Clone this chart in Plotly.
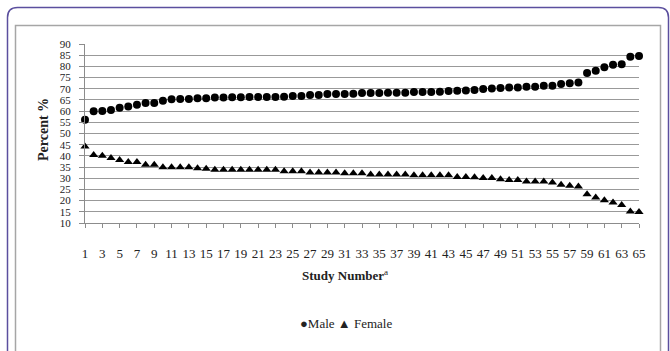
import plotly.graph_objects as go

study_number = list(range(1, 66))

male_pct = [56.1, 59.9, 60.1, 60.5, 61.5, 62.1, 62.8, 63.6, 63.6, 64.6,
            65.3, 65.4, 65.4, 65.8, 65.8, 66.1, 66.1, 66.2, 66.2, 66.3,
            66.3, 66.3, 66.3, 66.4, 66.8, 66.8, 67.2, 67.2, 67.7, 67.7,
            67.7, 67.8, 68.1, 68.1, 68.1, 68.2, 68.2, 68.2, 68.6, 68.6,
            68.6, 68.7, 69.0, 69.1, 69.2, 69.4, 69.9, 70.1, 70.3, 70.6,
            70.6, 70.9, 70.9, 71.3, 71.3, 72.1, 72.5, 72.8, 77.0, 78.1,
            79.6, 80.7, 81.0, 84.3, 84.6]

female_pct = [44.2, 40.4, 40.1, 39.0, 38.2, 37.3, 37.3, 36.0, 36.0, 34.9,
              34.9, 34.9, 34.9, 34.5, 34.2, 33.8, 33.8, 33.8, 33.8, 33.8,
              33.8, 33.8, 33.8, 33.1, 33.1, 33.1, 32.6, 32.6, 32.6, 32.6,
              32.2, 32.2, 32.2, 31.7, 31.7, 31.7, 31.7, 31.7, 31.3, 31.3,
              31.3, 31.3, 31.3, 30.6, 30.6, 30.5, 30.1, 30.1, 29.6, 29.2,
              29.2, 28.6, 28.6, 28.6, 28.1, 27.1, 26.6, 26.3, 22.9, 21.4,
              20.2, 19.2, 18.1, 15.1, 14.9]

x_tick_vals = [1, 3, 5, 7, 9, 11, 13, 15, 17, 19, 21, 23, 25, 27, 29, 31, 33,
               35, 37, 39, 41, 43, 45, 47, 49, 51, 53, 55, 57, 59, 61, 63, 65]
y_tick_vals = [10, 15, 20, 25, 30, 35, 40, 45, 50, 55, 60, 65, 70, 75, 80, 85, 90]

W, H = 670, 351
L, R, T, B = 85, 639, 44, 223
SERIF = "Liberation Serif, Times New Roman, serif"


def px_x(p):
    return (p - L) / (R - L)


def px_y(p):
    return (B - p) / (B - T)


fig = go.Figure()
fig.add_trace(go.Scatter(
    x=study_number, y=male_pct, mode="markers", name="Male",
    marker=dict(symbol="circle", size=8, color="black"),
    cliponaxis=False, showlegend=False))
fig.add_trace(go.Scatter(
    x=study_number, y=female_pct, mode="markers", name="Female",
    marker=dict(symbol="triangle-up", size=8, color="black"),
    cliponaxis=False, showlegend=False))


def rounded_path(x0, y0, x1, y1, r):
    pts = [
        ("M", x0 + r, y0), ("L", x1 - r, y0), ("Q", x1, y0, x1, y0 + r),
        ("L", x1, y1 - r), ("Q", x1, y1, x1 - r, y1), ("L", x0 + r, y1),
        ("Q", x0, y1, x0, y1 - r), ("L", x0, y0 + r), ("Q", x0, y0, x0 + r, y0),
    ]
    s = ""
    for p in pts:
        cmd = p[0]
        coords = p[1:]
        parts = []
        for i in range(0, len(coords), 2):
            parts.append(f"{px_x(coords[i]):.5f},{px_y(coords[i+1]):.5f}")
        s += cmd + " ".join(parts) + " "
    return s + "Z"


fig.add_shape(type="path", xref="paper", yref="paper",
              path=rounded_path(7.5, 7.5, 668.5, 362, 10),
              line=dict(color="#5b4f9e", width=1.5), layer="below")
fig.add_shape(type="rect", xref="paper", yref="paper",
              x0=px_x(15.5), x1=px_x(660.5), y0=px_y(360), y1=px_y(25.5),
              line=dict(color="#a6a6a6", width=1.5), layer="below")

fig.add_annotation(xref="paper", yref="paper", x=px_x(43), y=px_y(130),
                   xanchor="center", yanchor="middle",
                   text="<b>Percent %</b>", textangle=-90, showarrow=False,
                   font=dict(family=SERIF, size=14, color="#222"))
fig.add_annotation(xref="paper", yref="paper", x=px_x(345), y=px_y(285),
                   text="<b>Study Number</b><sup>a</sup>", showarrow=False,
                   font=dict(family=SERIF, size=13, color="#222"))
fig.add_annotation(xref="paper", yref="paper", x=px_x(346), y=px_y(333),
                   text="\u25cfMale \u25b2 Female", showarrow=False,
                   font=dict(family=SERIF, size=13, color="#222"))

fig.update_xaxes(range=[1, 65], tickmode="array", tickvals=x_tick_vals,
                 ticktext=[str(v) for v in x_tick_vals],
                 showgrid=False, zeroline=False, showline=True,
                 linecolor="#8c8c8c", linewidth=1,
                 ticks="outside", ticklen=4, tickcolor="#8c8c8c",
                 ticklabelstandoff=14,
                 tickfont=dict(family=SERIF, size=13, color="#222"))
fig.update_yaxes(range=[10, 90], tickmode="array", tickvals=y_tick_vals,
                 showgrid=True, gridcolor="#999999", gridwidth=1,
                 zeroline=False, showline=True, linecolor="#8c8c8c",
                 linewidth=1, ticks="outside", ticklen=5, tickcolor="#8c8c8c",
                 ticklabelstandoff=6,
                 tickfont=dict(family=SERIF, size=11, color="#222"))

fig.update_layout(width=W, height=H, autosize=False,
                  margin=dict(l=L, r=W - R, t=T, b=H - B),
                  plot_bgcolor="white", paper_bgcolor="white")

fig.write_html("out.html", config={"displayModeBar": False},
               post_script="document.body.style.margin='0px';"
                           "document.body.style.overflow='hidden';")
